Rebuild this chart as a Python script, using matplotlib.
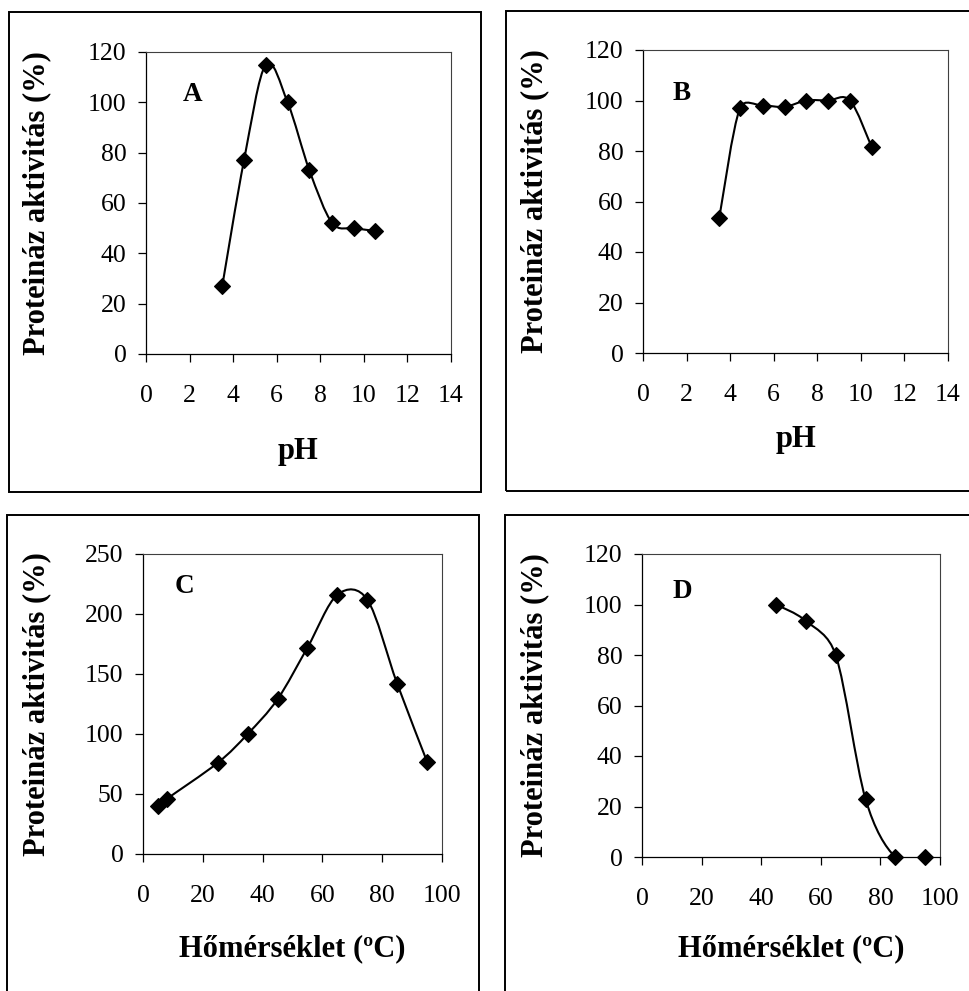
import numpy as np
import matplotlib
matplotlib.use("Agg")
import matplotlib.pyplot as plt
from matplotlib.path import Path
from matplotlib.patches import PathPatch, Rectangle

# ---------------- data ----------------
ph_a = [3.5, 4.5, 5.5, 6.5, 7.5, 8.55, 9.55, 10.5]
act_a = [27, 77, 115, 100, 73, 52, 50, 49]

ph_b = [3.5, 4.45, 5.5, 6.5, 7.5, 8.5, 9.5, 10.5]
act_b = [53.5, 97, 98, 97.5, 100, 100, 100, 81.5]

temp_c = [5, 8, 25, 35, 45, 55, 65, 75, 85, 95]
act_c = [40, 46, 76, 100, 129, 172, 216, 212, 142, 77]

temp_d = [45, 55, 65, 75, 85, 95]
act_d = [100, 93.5, 80, 23, 0, 0]

ph_ticks = [0, 2, 4, 6, 8, 10, 12, 14]
temp_ticks = [0, 20, 40, 60, 80, 100]
y_ticks_120 = [0, 20, 40, 60, 80, 100, 120]
y_ticks_250 = [0, 50, 100, 150, 200, 250]

ylabel = "Proteináz aktivitás (%)"
xlabel_ph = "pH"
xlabel_temp = "Hőmérséklet (ºC)"
panel_letters = ["A", "B", "C", "D"]

# ---------------- style ----------------
plt.rcParams['font.family'] = ['Liberation Serif', 'DejaVu Serif']
W, H = 969, 991
fig = plt.figure(figsize=(W / 100, H / 100), dpi=100)
fig.patch.set_facecolor('white')


def px_axes(l, t, r, b):
    return [l / W, 1 - b / H, (r - l) / W, (b - t) / H]


def excel_smooth(ax, xs, ys):
    pts = ax.transData.transform(np.column_stack([xs, ys]))
    n = len(pts)
    verts = [pts[0]]
    codes = [Path.MOVETO]
    for i in range(n - 1):
        p0 = pts[i - 1] if i > 0 else pts[i]
        p1 = pts[i]
        p2 = pts[i + 1]
        p3 = pts[i + 2] if i + 2 < n else pts[i + 1]
        d12 = np.linalg.norm(p2 - p1)
        d02 = np.linalg.norm(p2 - p0)
        d13 = np.linalg.norm(p3 - p1)
        f1 = 1 / 6
        f2 = 1 / 6
        if d02 > 0 and d02 / 6 > d12 / 2:
            f1 = d12 / (2 * d02)
        if d13 > 0 and d13 / 6 > d12 / 2:
            f2 = d12 / (2 * d13)
        b1 = p1 + f1 * (p2 - p0)
        b2 = p2 - f2 * (p3 - p1)
        verts += [b1, b2, p2]
        codes += [Path.CURVE4] * 3
    verts = ax.transData.inverted().transform(np.array(verts))
    patch = PathPatch(Path(verts, codes), facecolor='none', edgecolor='black',
                      lw=1.5, zorder=2, clip_on=True)
    ax.add_patch(patch)


def setup_panel(rect, xs, ys, xlim, ylim, xticks, yticks, xlabel, letter,
                letter_pos, ylab_x, xlab_y):
    ax = fig.add_axes(px_axes(*rect))
    ax.set_xlim(*xlim)
    ax.set_ylim(*ylim)
    ax.set_xticks(xticks)
    ax.set_yticks(yticks)
    for s in ['left', 'bottom']:
        ax.spines[s].set_color('black')
        ax.spines[s].set_linewidth(0.9)
    for s in ['top', 'right']:
        ax.spines[s].set_color('#404040')
        ax.spines[s].set_linewidth(0.8)
    ax.tick_params(axis='x', direction='out', length=6, width=0.9, pad=16,
                   labelsize=18.5, top=False)
    ax.tick_params(axis='y', direction='out', length=6, width=0.9, pad=8,
                   labelsize=18.5, right=False)
    excel_smooth(ax, xs, ys)
    ax.plot(xs, ys, linestyle='none', marker='D', ms=8.6, mfc='black',
            mec='black', mew=0.8, zorder=3, clip_on=False)
    ax.text(letter_pos[0], letter_pos[1], letter, transform=ax.transAxes,
            fontsize=19.5, fontweight='bold', ha='left', va='center')
    l, t, r, b = rect
    fig.text(ylab_x / W, 1 - ((t + b) / 2) / H, ylabel, rotation=90,
             ha='center', va='center', fontsize=22, fontweight='bold')
    fig.text(((l + r) / 2) / W, 1 - xlab_y / H, xlabel,
             ha='center', va='center', fontsize=22, fontweight='bold')
    return ax


setup_panel((146, 52, 451, 354), ph_a, act_a, (0, 14), (0, 120), ph_ticks,
            y_ticks_120, xlabel_ph, panel_letters[0], (0.12, 0.858), 37, 451)
setup_panel((643, 50, 948, 353), ph_b, act_b, (0, 14), (0, 120), ph_ticks,
            y_ticks_120, xlabel_ph, panel_letters[1], (0.098, 0.858), 535, 440)
setup_panel((143, 554, 442, 854), temp_c, act_c, (0, 100), (0, 250), temp_ticks,
            y_ticks_250, xlabel_temp, panel_letters[2], (0.107, 0.893), 37, 949)
setup_panel((642, 554, 940, 857), temp_d, act_d, (0, 100), (0, 120), temp_ticks,
            y_ticks_120, xlabel_temp, panel_letters[3], (0.104, 0.875), 535, 949)

# chart-area frames
frames = [(8.5, 12, 481, 492), (506, 11, 985, 491), (7, 515, 479, 1005),
          (505, 515, 985, 1005)]
for (l, t, r, b) in frames:
    fig.add_artist(Rectangle((l / W, 1 - b / H), (r - l) / W, (b - t) / H,
                             transform=fig.transFigure, fill=False,
                             edgecolor='black', lw=1.4))

fig.savefig("out.png", dpi=100)
